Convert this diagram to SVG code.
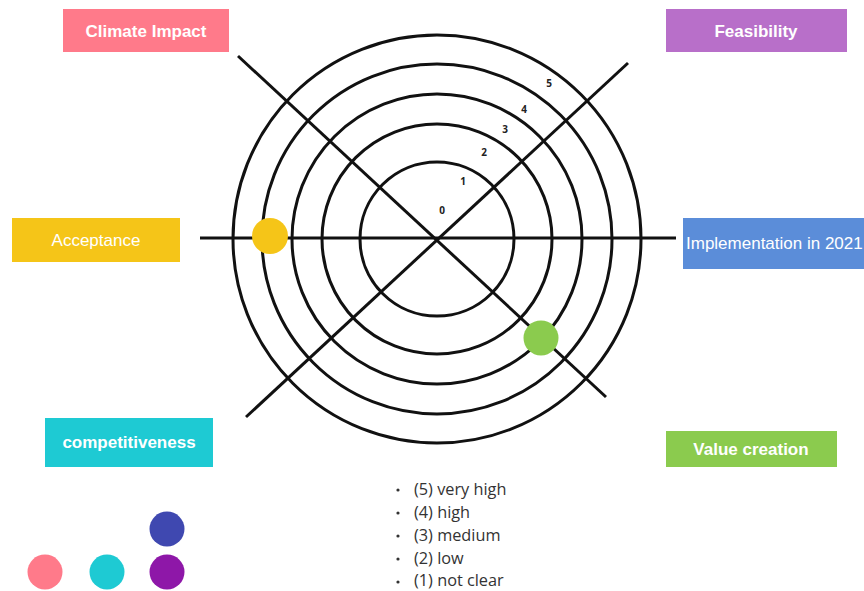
<svg xmlns="http://www.w3.org/2000/svg" width="864" height="591" viewBox="0 0 864 591">
  <style>
    .ring { fill: none; stroke: #111; stroke-width: 3; }
    .axis { stroke: #111; stroke-width: 3; stroke-linecap: butt; }
    .lbl { font-family: "Liberation Sans", Arial, sans-serif; font-size: 17px; fill: #fff; text-anchor: middle; dominant-baseline: central; }
    .bold { font-weight: bold; }
    .num { font-family: "Open Sans", "Noto Sans", sans-serif; font-size: 10px; font-weight: bold; fill: #222; text-anchor: middle; dominant-baseline: central; }
    .legend { font-family: "Open Sans", "Noto Sans", sans-serif; font-size: 16.3px; fill: #333; dominant-baseline: central; }
  </style>

  <rect width="864" height="591" fill="#fff"/>

  <!-- concentric score rings -->
  <g id="rings">
    <circle class="ring" cx="437" cy="239" r="204"/>
    <circle class="ring" cx="437" cy="239" r="175"/>
    <circle class="ring" cx="437" cy="239" r="145"/>
    <circle class="ring" cx="437" cy="239" r="115"/>
    <circle class="ring" cx="437" cy="239" r="77"/>
  </g>

  <!-- axes -->
  <g id="connectors">
    <line class="axis" x1="200" y1="238" x2="676" y2="238"/>
    <line class="axis" x1="238" y1="56" x2="606" y2="397"/>
    <line class="axis" x1="628" y1="63" x2="246" y2="417"/>
  </g>

  <!-- scale numbers -->
  <g id="scale">
    <text class="num" x="442" y="210">0</text>
    <text class="num" x="463" y="181">1</text>
    <text class="num" x="484" y="152">2</text>
    <text class="num" x="505" y="129">3</text>
    <text class="num" x="524" y="109">4</text>
    <text class="num" x="549" y="83">5</text>
  </g>

  <!-- rating markers -->
  <g id="markers">
    <circle cx="270" cy="236" r="18" fill="#F5C518"/>
    <circle cx="541" cy="338" r="17.5" fill="#8BCB4E"/>
  </g>

  <g id="climate-impact">
    <rect x="63" y="9" width="166" height="43" fill="#FF7A8A"/>
    <text class="lbl bold" x="146" y="31">Climate Impact</text>
  </g>
  <g id="feasibility">
    <rect x="666" y="9" width="181" height="43" fill="#B86FC9"/>
    <text class="lbl bold" x="756" y="31">Feasibility</text>
  </g>
  <g id="acceptance">
    <rect x="12" y="218" width="168" height="44" fill="#F5C518"/>
    <text class="lbl" x="96" y="240">Acceptance</text>
  </g>
  <g id="implementation">
    <rect x="683" y="218" width="181" height="51" fill="#5B8DD9"/>
    <text class="lbl" x="686" y="243" style="text-anchor:start">Implementation in 2021</text>
  </g>
  <g id="competitiveness">
    <rect x="45" y="418" width="168" height="49" fill="#1ECAD3"/>
    <text class="lbl bold" x="129" y="442">competitiveness</text>
  </g>
  <g id="value-creation">
    <rect x="666" y="431" width="171" height="36" fill="#8BCB4E"/>
    <text class="lbl bold" x="751" y="449">Value creation</text>
  </g>

  <!-- rating legend -->
  <g id="legend">
    <g fill="#333">
      <circle cx="398" cy="490" r="1.6"/>
      <circle cx="398" cy="513" r="1.6"/>
      <circle cx="398" cy="536" r="1.6"/>
      <circle cx="398" cy="559" r="1.6"/>
      <circle cx="398" cy="582" r="1.6"/>
    </g>
    <text class="legend" x="414" y="489">(5) very high</text>
    <text class="legend" x="414" y="512">(4) high</text>
    <text class="legend" x="414" y="535">(3) medium</text>
    <text class="legend" x="414" y="558">(2) low</text>
    <text class="legend" x="414" y="580">(1) not clear</text>
  </g>

  <!-- colour dots -->
  <g id="dots">
    <circle cx="45" cy="572" r="17.5" fill="#FF7A8A"/>
    <circle cx="107" cy="572" r="17.5" fill="#1ECAD3"/>
    <circle cx="167" cy="572" r="17.5" fill="#8E17A8"/>
    <circle cx="167" cy="529" r="17.5" fill="#3F48B0"/>
  </g>
</svg>
